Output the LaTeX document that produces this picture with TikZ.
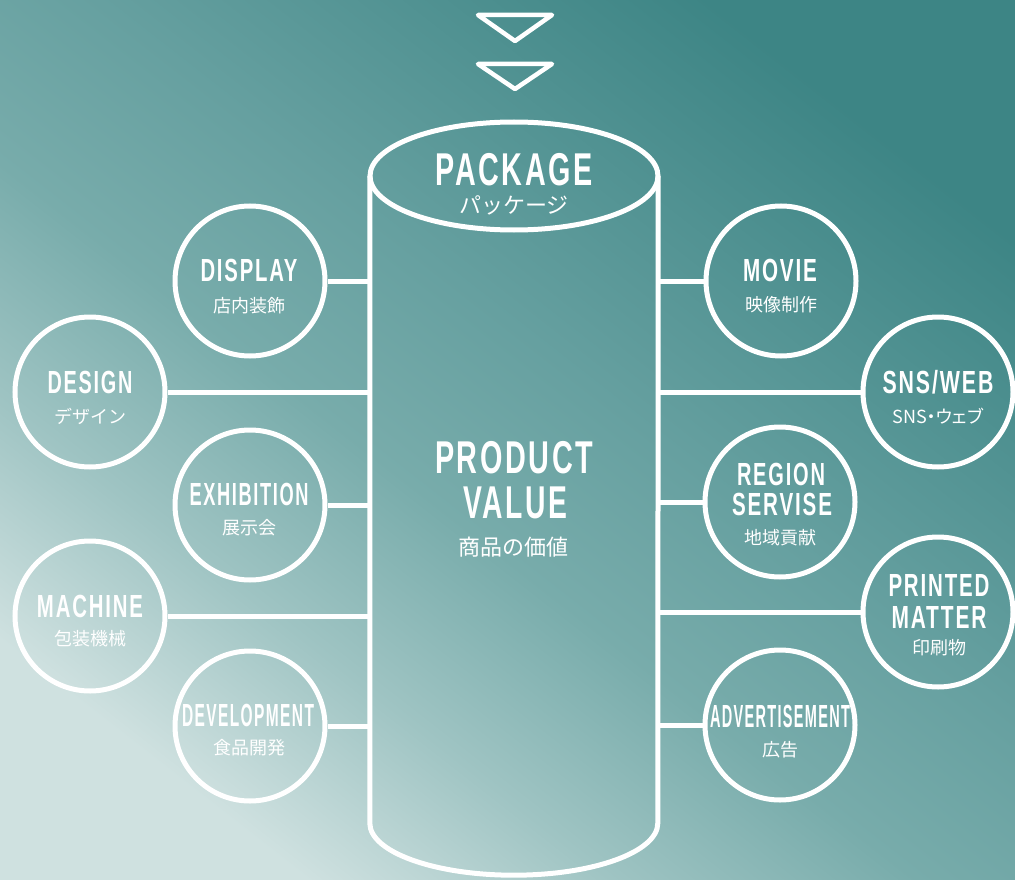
\documentclass[tikz,border=0pt]{standalone}
\usepackage{fontspec}
\usepackage{graphicx}
\newfontfamily\enfont[LetterSpace=9]{Liberation Sans}
\newfontfamily\jpfont{Noto Sans CJK JP}
\definecolor{bgdark}{HTML}{3D8585}
\definecolor{bgfour}{HTML}{66A0A0}
\definecolor{bgthree}{HTML}{78ACAB}
\definecolor{bgtwo}{HTML}{9FC4C3}
\definecolor{bglight}{HTML}{CFE1E0}
\pgfdeclareverticalshading{bgsh}{100bp}{color(0bp)=(bglight); color(25bp)=(bglight); color(35bp)=(bgtwo); color(45bp)=(bgthree); color(55bp)=(bgfour); color(75bp)=(bgdark); color(100bp)=(bgdark)}
\newcommand\fitw[2]{\resizebox{#1pt}{\height}{#2}}
\tikzset{
  bubble/.style={circle, draw=white, line width=5pt, minimum size=150pt, inner sep=0pt},
  link/.style={draw=white, line width=5pt},
  en/.style={text=white, font=\enfont\bfseries\fontsize{32}{34}\selectfont, inner sep=0pt},
  enbig/.style={text=white, font=\enfont\bfseries\fontsize{46}{48}\selectfont, inner sep=0pt},
  jp/.style={text=white, font=\jpfont\fontsize{18}{20}\selectfont, inner sep=0pt},
  jpbig/.style={text=white, font=\jpfont\fontsize{22}{24}\selectfont, inner sep=0pt},
}
\begin{document}
\begin{tikzpicture}[x=1pt, y=-1pt]
\useasboundingbox (0,0) rectangle (1015,880);
\shade[shading=bgsh, shading angle=-38] (0,0) rectangle (1015,880);

% arrows at top
\draw[link, line width=4.5pt, line join=round] (478,15) -- (552,15) -- (515,41) -- cycle;
\draw[link, line width=4.5pt, line join=round] (478,64) -- (552,64) -- (515,89) -- cycle;

% cylinder
\node[minimum width=288pt, minimum height=647pt, inner sep=0pt] (body) at (514,499.5) {};
\draw[link, line join=round] (body.north west) -- (body.south west)
  arc[start angle=180, end angle=0, x radius=144, y radius=52] -- (body.north east);
\draw[link] (514,176) ellipse[x radius=144, y radius=54];

\node[enbig] (tpack) at (514,170) {\fitw{157}{PACKAGE}};
\node[jpbig] (jpack) at (514,205) {パッケージ};
\node[enbig] (tprod) at (514,458) {\fitw{158}{PRODUCT}};
\node[enbig] (tval) at (515,503) {\fitw{104}{VALUE}};
\node[jpbig] (jprod) at (513,547) {商品の価値};

% left bubbles
\node[bubble] (display) at (250,281) {};
\node[bubble] (design) at (90,392) {};
\node[bubble] (exhib) at (250,505) {};
\node[bubble] (machine) at (90,616) {};
\node[bubble] (devel) at (250,726) {};
% right bubbles
\node[bubble] (movie) at (781,281) {};
\node[bubble] (sns) at (938,392) {};
\node[bubble] (region) at (780,502) {};
\node[bubble] (printed) at (938,612) {};
\node[bubble] (advert) at (780,725) {};

% connectors
\foreach \n in {display,design,exhib,machine,devel}
  \draw[link] (\n.east) -- (\n.east -| body.west);
\foreach \n in {movie,sns,region,printed,advert}
  \draw[link] (\n.west) -- (\n.west -| body.east);

% labels
\node[en] (tdisplay) at (249,270) {\fitw{97}{DISPLAY}};
\node[jp] (jdisplay) at (249,306) {店内装飾};
\node[en] (tdesign) at (90,382) {\fitw{85}{DESIGN}};
\node[jp] (jdesign) at (90,416) {デザイン};
\node[en] (texhib) at (249,494) {\fitw{119}{EXHIBITION}};
\node[jp] (jexhib) at (249,528) {展示会};
\node[en] (tmachine) at (90,606) {\fitw{106}{MACHINE}};
\node[jp] (jmachine) at (90,639) {包装機械};
\node[en] (tdevel) at (248,715) {\fitw{132}{DEVELOPMENT}};
\node[jp] (jdevel) at (249,748) {食品開発};

\node[en] (tmovie) at (780,270) {\fitw{74}{MOVIE}};
\node[jp] (jmovie) at (781,305) {映像制作};
\node[en] (tsns) at (938,382) {\fitw{111}{SNS/WEB}};
\node[jp] (jsns) at (938,416) {\addfontfeature{RawFeature=+palt}SNS・ウェブ};
\node[en] (tregion) at (781,474) {\fitw{88}{REGION}};
\node[en] (tservise) at (782,504) {\fitw{100}{SERVISE}};
\node[jp] (jregion) at (780,538) {地域貢献};
\node[en] (tprinted) at (939,585) {\fitw{101}{PRINTED}};
\node[en] (tmatter) at (939,617) {\fitw{95}{MATTER}};
\node[jp] (jprinted) at (939,648) {印刷物};
\node[en] (tadvert) at (780,716) {\fitw{140}{ADVERTISEMENT}};
\node[jp] (jadvert) at (780,750) {広告};
\end{tikzpicture}
\end{document}
